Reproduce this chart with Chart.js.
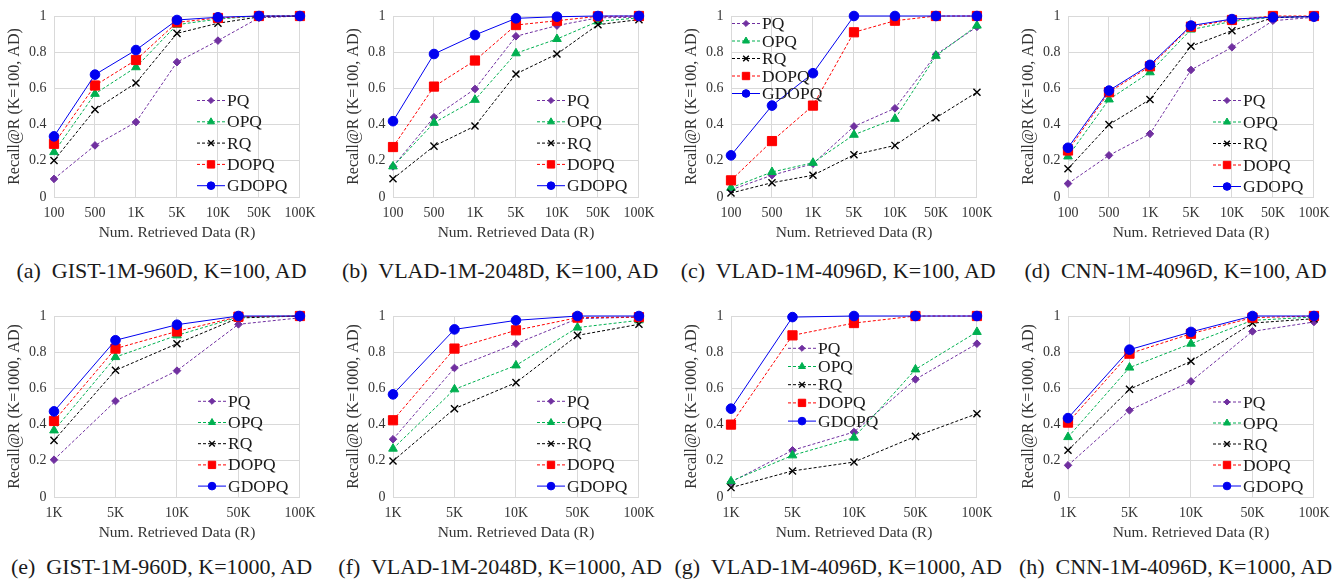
<!DOCTYPE html>
<html>
<head>
<meta charset="utf-8">
<title>Recall@R comparison</title>
<script src="https://cdn.jsdelivr.net/npm/chart.js@4.4.1/dist/chart.umd.min.js"></script>
<style>
  body { margin: 0; background: #fff; }
  #figure { position: relative; width: 1344px; height: 581px; overflow: hidden; font-family: "Liberation Serif", serif; }
  #figure canvas { position: absolute; }
  .caption { position: absolute; white-space: pre; font-size: 22px; line-height: 22px; color: #1a1a1a; transform: translateX(-50%); }
</style>
</head>
<body>
<div id="figure"></div>
<script>
// Series order in every table below: PQ, OPQ, RQ, DOPQ, GDOPQ
const methods = ['PQ', 'OPQ', 'RQ', 'DOPQ', 'GDOPQ'];
const retrievedK100 = ['100', '500', '1K', '5K', '10K', '50K', '100K'];
const retrievedK1000 = ['1K', '5K', '10K', '50K', '100K'];
const recallTicks = [0, 0.2, 0.4, 0.6, 0.8, 1];

const gist100 = [
    [0.10, 0.285, 0.414, 0.745, 0.864, 0.99, 1.0],
    [0.248, 0.57, 0.717, 0.952, 0.983, 1.0, 1.0],
    [0.202, 0.483, 0.63, 0.904, 0.96, 0.995, 1.0],
    [0.294, 0.616, 0.757, 0.965, 0.989, 1.0, 1.0],
    [0.335, 0.676, 0.812, 0.978, 0.993, 1.0, 1.0]
];
const vlad2048K100 = [
    [0.169, 0.441, 0.597, 0.888, 0.947, 0.99, 0.993],
    [0.169, 0.41, 0.537, 0.794, 0.873, 0.97, 0.99],
    [0.101, 0.281, 0.392, 0.68, 0.79, 0.952, 0.98],
    [0.276, 0.61, 0.754, 0.95, 0.974, 0.998, 1.0],
    [0.419, 0.79, 0.895, 0.987, 0.996, 1.0, 1.0]
];
const vlad4096K100 = [
    [0.04, 0.12, 0.184, 0.39, 0.49, 0.787, 0.94],
    [0.051, 0.138, 0.189, 0.344, 0.432, 0.78, 0.947],
    [0.022, 0.079, 0.12, 0.233, 0.285, 0.4375, 0.579],
    [0.092, 0.309, 0.505, 0.91, 0.974, 1.0, 1.0],
    [0.23, 0.505, 0.684, 1.0, 1.0, 1.0, 1.0]
];
const cnnK100 = [
    [0.074, 0.23, 0.349, 0.702, 0.827, 0.974, 0.993],
    [0.224, 0.539, 0.689, 0.925, 0.97, 0.993, 0.998],
    [0.156, 0.40, 0.539, 0.833, 0.919, 0.99, 0.998],
    [0.257, 0.579, 0.722, 0.941, 0.978, 1.0, 1.0],
    [0.272, 0.588, 0.73, 0.947, 0.983, 0.993, 0.996]
];
const gist1000 = [
    [0.206, 0.53, 0.698, 0.954, 0.99],
    [0.368, 0.773, 0.893, 0.994, 1.0],
    [0.313, 0.70, 0.847, 0.989, 1.0],
    [0.42, 0.82, 0.915, 0.996, 1.0],
    [0.473, 0.866, 0.952, 1.0, 1.0]
];
const vlad2048K1000 = [
    [0.319, 0.713, 0.847, 0.985, 0.994],
    [0.267, 0.595, 0.727, 0.936, 0.976],
    [0.199, 0.488, 0.632, 0.893, 0.954],
    [0.424, 0.82, 0.921, 0.991, 0.994],
    [0.567, 0.926, 0.976, 1.0, 1.0]
];
const vlad4096K1000 = [
    [0.083, 0.258, 0.359, 0.65, 0.847],
    [0.087, 0.23, 0.328, 0.705, 0.912],
    [0.052, 0.144, 0.193, 0.335, 0.46],
    [0.40, 0.893, 0.961, 1.0, 1.0],
    [0.488, 0.994, 1.0, 1.0, 1.0]
];
const cnnK1000 = [
    [0.175, 0.479, 0.639, 0.915, 0.967],
    [0.331, 0.715, 0.847, 0.976, 0.994],
    [0.258, 0.595, 0.75, 0.961, 0.985],
    [0.411, 0.792, 0.902, 0.991, 1.0],
    [0.436, 0.814, 0.912, 1.0, 1.0]
];

// line / marker look of each method
const methodStyles = [
    { color: '#7030A0', dash: [3, 2], point: 'rectRot', radius: 3.8, pointWidth: 1 },
    { color: '#00B050', dash: [3, 2], point: 'triangle', radius: 5, pointWidth: 1 },
    { color: '#000000', dash: [3, 2], point: 'crossRot', radius: 5, pointWidth: 1.4 },
    { color: '#FF0000', dash: [3, 2], point: 'rect', radius: 6.5, pointWidth: 1 },
    { color: '#0000F0', dash: [], point: 'circle', radius: 4.8, pointWidth: 1 }
];

const SERIF = '"Liberation Serif", serif';
const TEXT = '#333333';
const PLOT_W = 247, PLOT_H = 181, Y_AXIS_W = 54, X_AXIS_H = 50, PAD_TOP = 16, PAD_RIGHT = 22;

const panels = [
    { caption: '(a)  GIST-1M-960D, K=100, AD', labels: retrievedK100, values: gist100, k: 100, left: 54, top: 15.5, legend: { x: 143, y: 84.5, step: 21.3 } },
    { caption: '(b)  VLAD-1M-2048D, K=100, AD', labels: retrievedK100, values: vlad2048K100, k: 100, left: 392.7, top: 15.5, legend: { x: 144, y: 84.5, step: 21.3 } },
    { caption: '(c)  VLAD-1M-4096D, K=100, AD', labels: retrievedK100, values: vlad4096K100, k: 100, left: 730.7, top: 15.5, legend: { x: 1, y: 7.5, step: 17.5 } },
    { caption: '(d)  CNN-1M-4096D, K=100, AD', labels: retrievedK100, values: cnnK100, k: 100, left: 1068, top: 15.5, legend: { x: 145, y: 84.5, step: 21.5 } },
    { caption: '(e)  GIST-1M-960D, K=1000, AD', labels: retrievedK1000, values: gist1000, k: 1000, left: 54, top: 315.7, legend: { x: 144, y: 85.3, step: 21.2 } },
    { caption: '(f)  VLAD-1M-2048D, K=1000, AD', labels: retrievedK1000, values: vlad2048K1000, k: 1000, left: 392.7, top: 315.7, legend: { x: 144, y: 85.3, step: 21.2 } },
    { caption: '(g)  VLAD-1M-4096D, K=1000, AD', labels: retrievedK1000, values: vlad4096K1000, k: 1000, left: 730.7, top: 315.7, legend: { x: 57, y: 32.3, step: 18.2 } },
    { caption: '(h)  CNN-1M-4096D, K=1000, AD', labels: retrievedK1000, values: cnnK1000, k: 1000, left: 1068, top: 315.7, legend: { x: 145, y: 86, step: 21 } }
];

// Legend drawn inside the plot area, Excel style: line sample with a slightly smaller marker, then label
const inlineLegend = {
    id: 'inlineLegend',
    afterDraw(chart, args, opts) {
        const { ctx, chartArea } = chart;
        ctx.save();
        ctx.font = opts.fontSize + 'px ' + SERIF;
        ctx.textBaseline = 'middle';
        chart.data.datasets.forEach((ds, i) => {
            const x = chartArea.left + opts.x;
            const y = chartArea.top + opts.y + i * opts.step;
            ctx.strokeStyle = ds.borderColor;
            ctx.lineWidth = ds.borderWidth;
            ctx.setLineDash(ds.borderDash);
            ctx.beginPath();
            ctx.moveTo(x, y);
            ctx.lineTo(x + 28, y);
            ctx.stroke();
            ctx.setLineDash([]);
            ctx.fillStyle = ds.pointBackgroundColor;
            ctx.strokeStyle = ds.pointBorderColor;
            ctx.lineWidth = ds.pointBorderWidth;
            Chart.helpers.drawPoint(ctx, {
                pointStyle: ds.pointStyle,
                radius: ds.pointRadius * 0.8,
                rotation: 0,
                borderWidth: ds.pointBorderWidth
            }, x + 14, y);
            ctx.fillStyle = '#1a1a1a';
            ctx.fillText(ds.label, x + 30, y + 1);
        });
        ctx.restore();
    }
};

const figure = document.getElementById('figure');

function drawPanel(panel) {
    const canvas = document.createElement('canvas');
    canvas.width = Y_AXIS_W + PLOT_W + PAD_RIGHT;
    canvas.height = PAD_TOP + PLOT_H + X_AXIS_H;
    canvas.style.left = (panel.left - Y_AXIS_W) + 'px';
    canvas.style.top = (panel.top - PAD_TOP) + 'px';
    figure.appendChild(canvas);

    const caption = document.createElement('div');
    caption.className = 'caption';
    caption.textContent = panel.caption;
    caption.style.left = (panel.left + PLOT_W / 2 - 16) + 'px';
    caption.style.top = (panel.top < 100 ? 259.5 : 556) + 'px';
    figure.appendChild(caption);

    const datasets = methods.map((name, i) => {
        const s = methodStyles[i];
        return {
            label: name,
            data: panel.values[i],
            borderColor: s.color,
            borderWidth: 1,
            borderDash: s.dash,
            pointStyle: s.point,
            pointRadius: s.radius,
            pointBackgroundColor: s.color,
            pointBorderColor: s.color,
            pointBorderWidth: s.pointWidth,
            tension: 0,
            clip: false,
            order: methods.length - i
        };
    });

    new Chart(canvas, {
        type: 'line',
        data: { labels: panel.labels, datasets },
        plugins: [inlineLegend],
        options: {
            responsive: false,
            animation: false,
            layout: { padding: { top: PAD_TOP, right: PAD_RIGHT, left: 0, bottom: 0 } },
            plugins: {
                legend: { display: false },
                tooltip: { enabled: false },
                inlineLegend: { x: panel.legend.x, y: panel.legend.y, step: panel.legend.step, fontSize: 17.5 }
            },
            scales: {
                x: {
                    offset: false,
                    grid: { color: '#D9D9D9', drawTicks: false },
                    border: { color: '#D9D9D9' },
                    ticks: { color: TEXT, padding: 7.5, maxRotation: 0, font: { family: SERIF, size: 14 } },
                    title: { display: true, text: 'Num. Retrieved Data (R)', color: TEXT, padding: { top: 0, bottom: 5 }, font: { family: SERIF, size: 15.5 } },
                    afterFit(scale) { scale.height = X_AXIS_H; }
                },
                y: {
                    min: 0,
                    max: 1,
                    afterBuildTicks(scale) { scale.ticks = recallTicks.map(v => ({ value: v })); },
                    grid: { color: '#D9D9D9', drawTicks: false },
                    border: { color: '#D9D9D9' },
                    ticks: {
                        color: TEXT,
                        padding: 7.5,
                        font: { family: SERIF, size: 14 },
                        callback: value => String(value)
                    },
                    title: { display: true, text: 'Recall@R (K=' + panel.k + ', AD)', color: TEXT, padding: { top: 5, bottom: 0 }, font: { family: SERIF, size: 16 } },
                    afterFit(scale) { scale.width = Y_AXIS_W; }
                }
            }
        }
    });
}

// canvas text needs the serif face loaded before the first draw
document.fonts.load('14px "Liberation Serif"').then(() => panels.forEach(drawPanel));
</script>
</body>
</html>
